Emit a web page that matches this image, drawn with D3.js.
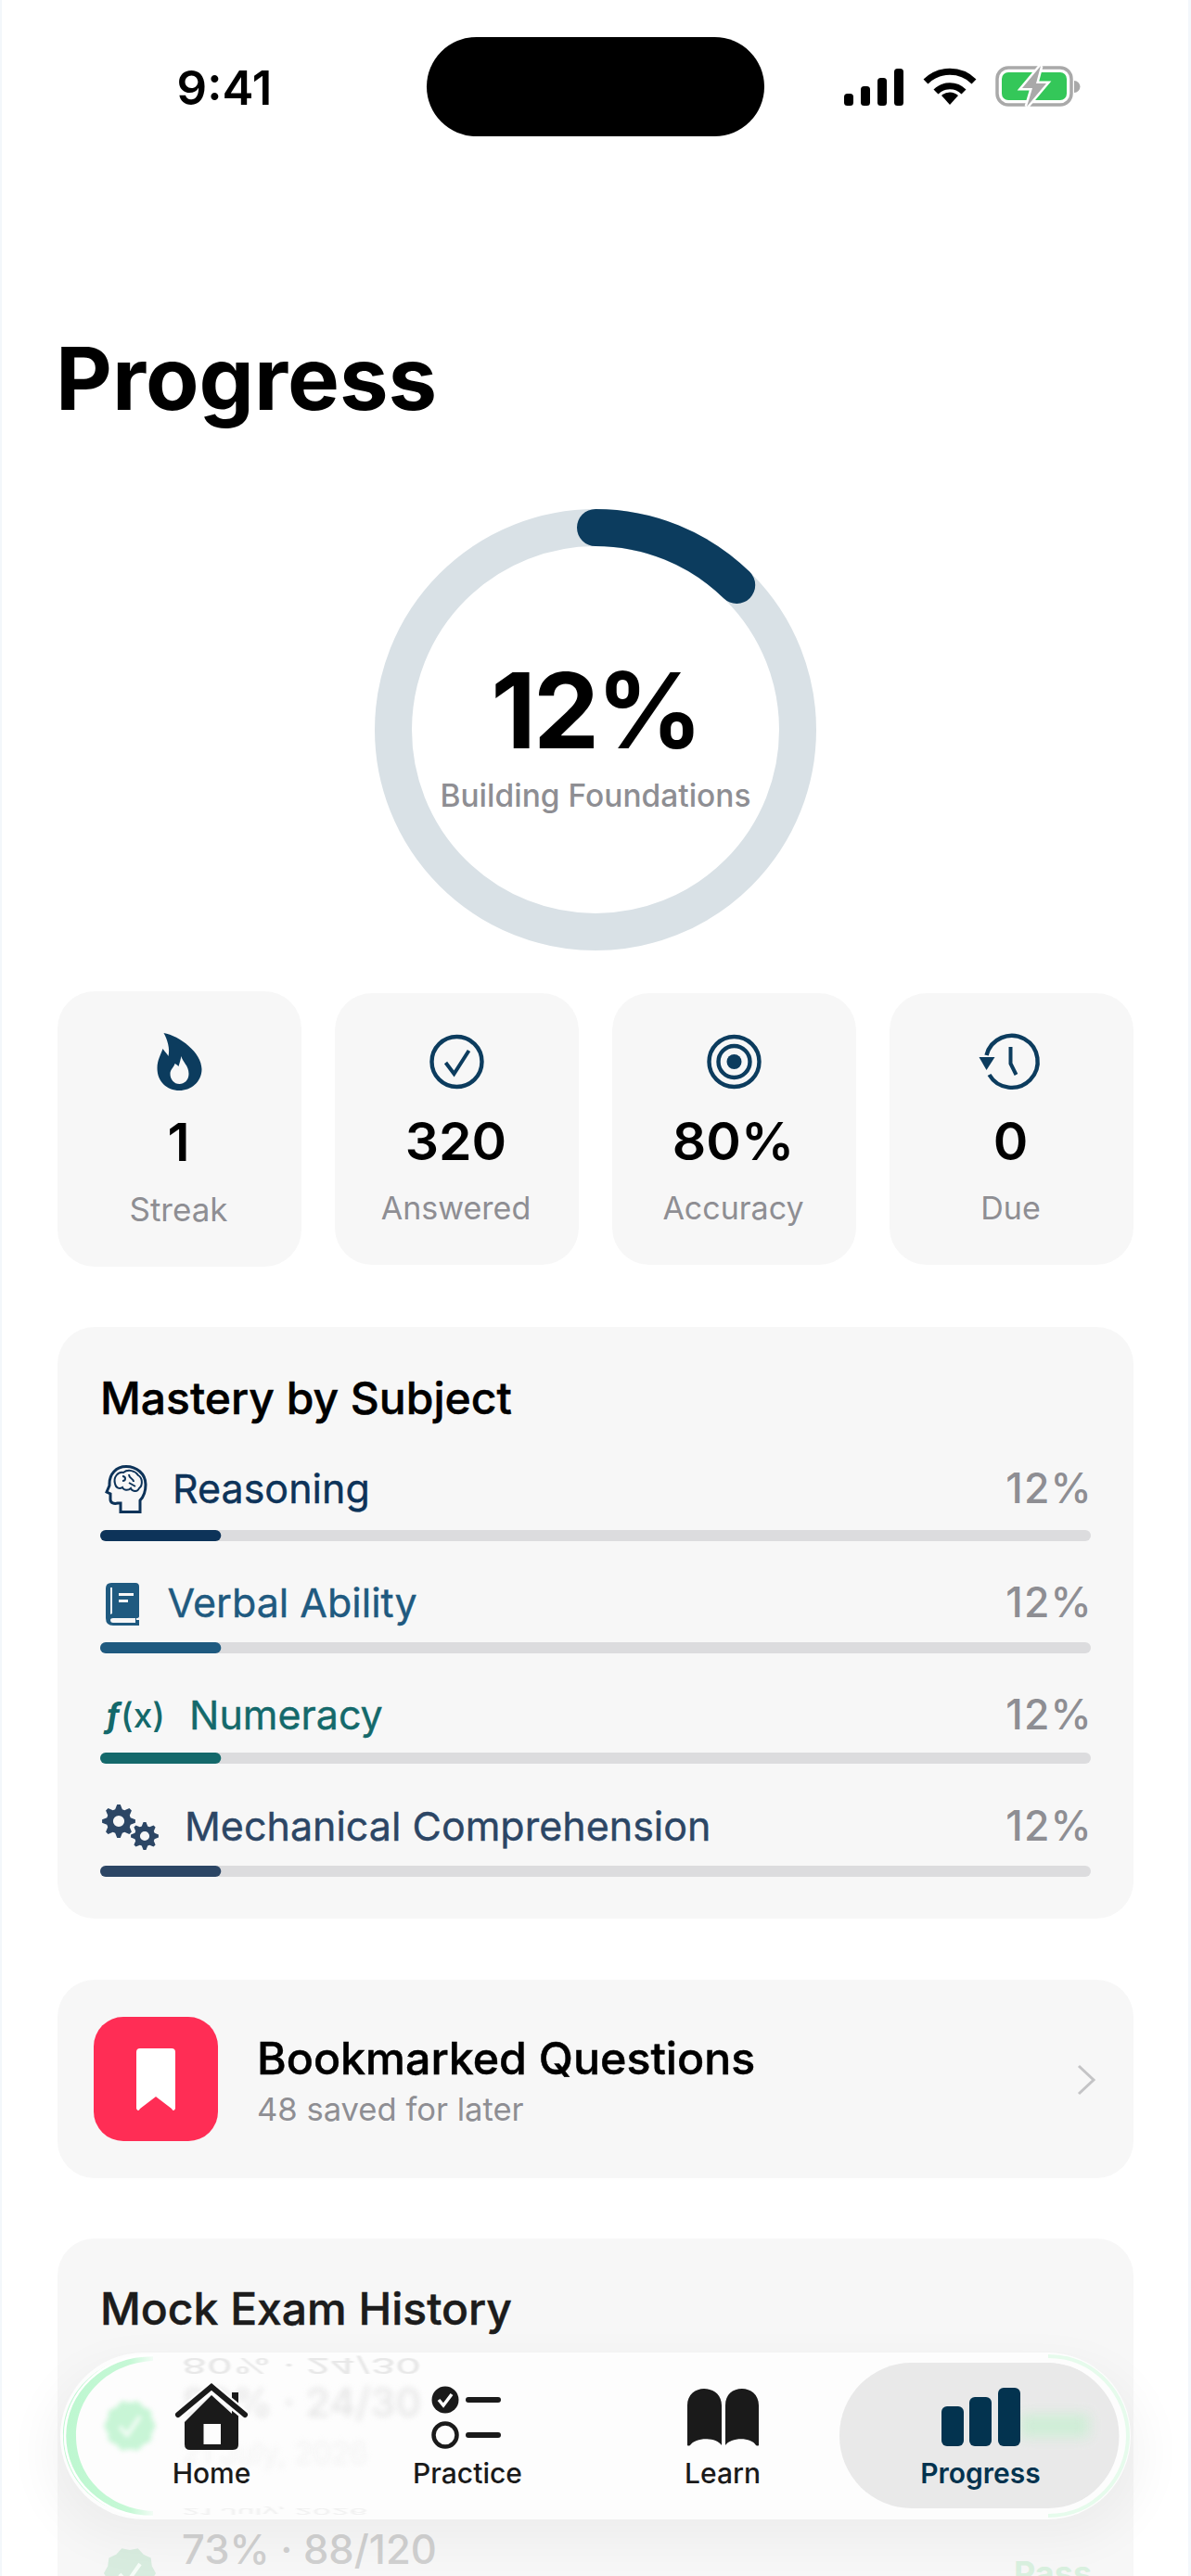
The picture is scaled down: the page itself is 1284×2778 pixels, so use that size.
<!DOCTYPE html>
<meta charset="utf-8">
<head>
  <script src="https://d3js.org/d3.v7.min.js"></script>
  <style>
    html, body { margin: 0; padding: 0; background: #fff; }
    svg { display: block; }
    text { font-family: 'Inter', sans-serif; }
  </style>
</head>
<div id="my_dataviz"></div>
<script>
  // overall ring
  var overallPct = 12.3;
  var overallLabel = "Building Foundations";

  // stat cards
  var statLabels = ["Streak", "Answered", "Accuracy", "Due"];
  var statValues = ["1", "320", "80%", "0"];

  // mastery bars
  var subjects = ["Reasoning", "Verbal Ability", "Numeracy", "Mechanical Comprehension"];
  var masteryValues = [12.2, 12.2, 12.2, 12.2];
  var subjectColors = ["#0d3359", "#1f5a80", "#14696b", "#2c4665"];

  // bookmarks
  var bookmarkTitle = "Bookmarked Questions";
  var bookmarkNote = "48 saved for later";

  // mock exam rows (mostly hidden behind the tab bar)
  var examScores = ["80% · 24/30", "73% · 88/120"];
  var examDates = ["21 July, 2026", "21 July, 2026"];
  var examResults = ["Pass", "Pass"];

  // tab bar
  var tabLabels = ["Home", "Practice", "Learn", "Progress"];

  var width = 1284, height = 2778;
  var navy = "#0c3c5e", grey = "#8e8e93", cardFill = "#f7f7f7";

  var svg = d3.select("#my_dataviz").append("svg")
    .attr("width", width).attr("height", height);

  var defs = svg.append("defs");
  function blur(id, sd) {
    defs.append("filter").attr("id", id)
      .attr("x", "-30%").attr("y", "-60%").attr("width", "160%").attr("height", "220%")
      .attr("color-interpolation-filters", "sRGB")
      .append("feGaussianBlur").attr("stdDeviation", sd);
  }
  blur("blur3", 3);
  blur("blur2", 2.4);
  blur("blur1", 1.2);
  blur("blur9", 7);
  blur("shadow", 26);
  var greenFade = defs.append("linearGradient").attr("id", "greenFade");
  greenFade.append("stop").attr("offset", "0%").attr("stop-color", "#bdf7d0");
  greenFade.append("stop").attr("offset", "75%").attr("stop-color", "#c6f8d6");
  greenFade.append("stop").attr("offset", "100%").attr("stop-color", "#c6f8d6").attr("stop-opacity", 0.2);

  function label(g, x, y, str, size, weight, fill, anchor) {
    return g.append("text").attr("x", x).attr("y", y).text(str)
      .attr("font-size", size).attr("font-weight", weight)
      .attr("fill", fill).attr("text-anchor", anchor || "start");
  }
  function card(x, y, w, h, r) {
    return svg.append("rect").attr("x", x).attr("y", y).attr("width", w).attr("height", h)
      .attr("rx", r).attr("fill", cardFill);
  }
  // gear outline with a hole, teeth around the rim
  function gear(r, teeth) {
    var p = d3.path(), n = teeth * 4, rin = r * 0.74;
    for (var i = 0; i < n; i++) {
      var a = i / n * 2 * Math.PI - Math.PI / n;
      var rad = (i % 4 < 2) ? r : rin;
      if (i == 0) p.moveTo(rad * Math.cos(a), rad * Math.sin(a));
      else p.lineTo(rad * Math.cos(a), rad * Math.sin(a));
    }
    p.closePath();
    var h = r * 0.34;
    p.moveTo(h, 0); p.arc(0, 0, h, 0, 2 * Math.PI, true); p.closePath();
    return p.toString();
  }

  // edge hairlines of the screenshot
  svg.append("rect").attr("x", 0).attr("y", 0).attr("width", 2).attr("height", height).attr("fill", "#f3f7fb");
  svg.append("rect").attr("x", width - 3).attr("y", 0).attr("width", 3).attr("height", height).attr("fill", "#f3f7fb");

  // status bar
  label(svg, 242, 113, "9:41", 51, 600, "#000", "middle");
  svg.append("rect").attr("x", 460).attr("y", 40).attr("width", 364).attr("height", 107).attr("rx", 53.5).attr("fill", "#000");
  var sig = svg.append("g").attr("transform", "translate(910,114)");
  [13, 21, 30, 40].forEach(function (h, i) {
    sig.append("rect").attr("x", i * 18).attr("y", -h).attr("width", 10).attr("height", h).attr("rx", 3.5).attr("fill", "#000");
  });
  var wifi = svg.append("g").attr("transform", "translate(1024,113)").attr("fill", "none").attr("stroke", "#000").attr("stroke-width", 7);
  wifi.append("path").attr("d", "M-26,-25 A37,37 0 0 1 26,-25");
  wifi.append("path").attr("d", "M-15,-14 A21,21 0 0 1 15,-14");
  wifi.append("path").attr("d", "M-9,-10 L0,0 L9,-10 A13,13 0 0 0 -9,-10 Z").attr("fill", "#000").attr("stroke", "none");
  var bat = svg.append("g").attr("transform", "translate(1075,73)");
  bat.append("rect").attr("x", 0).attr("y", 0).attr("width", 80).attr("height", 40).attr("rx", 12).attr("fill", "#fff").attr("stroke", "#a9a9a9").attr("stroke-width", 3.5);
  bat.append("rect").attr("x", 5).attr("y", 5).attr("width", 70).attr("height", 30).attr("rx", 7).attr("fill", "#34c759");
  bat.append("path").attr("d", "M83,14 A6,6 0 0 1 83,27 Z").attr("fill", "#a9a9a9");
  bat.append("path").attr("d", "M47,-2 L27,22 L38,22 L32,42 L53,17 L42,17 Z").attr("fill", "#a9a9a9").attr("stroke", "#fff").attr("stroke-width", 5).attr("paint-order", "stroke");

  // title
  label(svg, 60, 442, "Progress", 94, 700, "#000");

  // ring
  var ringAngle = d3.scaleLinear().domain([0, 100]).range([0, 2 * Math.PI]);
  var ring = svg.append("g").attr("transform", "translate(642,787)");
  ring.append("circle").attr("r", 218).attr("fill", "none").attr("stroke", "#d9e1e6").attr("stroke-width", 40);
  var ringPath = d3.path();
  ringPath.arc(0, 0, 218, -Math.PI / 2, -Math.PI / 2 + ringAngle(overallPct));
  ring.append("path").attr("d", ringPath.toString()).attr("fill", "none")
    .attr("stroke", navy).attr("stroke-width", 40).attr("stroke-linecap", "round");
  label(ring, 0, 20, Math.round(overallPct) + "%", 113, 700, "#000", "middle").attr("letter-spacing", -3);
  label(ring, 0, 83, overallLabel, 33.5, 500, grey, "middle");

  // stat cards
  var statX = d3.scaleBand().domain(statLabels).range([62, 1222]).paddingInner(36 / 299);
  var statIcons = {
    Streak: function (g) {
      g.append("path").attr("fill", navy).attr("fill-rule", "evenodd").attr("d",
        "M-17,-31 C0,-28 24,-10 24,8 C24,22 12,31 0,31 C-14,31 -24,21 -24,7 C-24,-2 -20,-8 -18,-14 C-15,-10 -13,-8 -12,-6 C-10,-14 -13,-24 -17,-31 Z " +
        "M2,-6 C3,0 10,4 10,13 C10,20 5,24 0,24 C-6,24 -10,19 -10,13 C-10,8 -6,6 -5,2 C-3,3 -2,4 -1,5 C0,2 1,-2 2,-6 Z");
    },
    Answered: function (g) {
      g.append("circle").attr("r", 27).attr("fill", "none").attr("stroke", navy).attr("stroke-width", 4.4);
      g.append("path").attr("d", "M-12,1 L-3,13 L13,-12").attr("fill", "none").attr("stroke", navy).attr("stroke-width", 4);
    },
    Accuracy: function (g) {
      g.append("circle").attr("r", 27).attr("fill", "none").attr("stroke", navy).attr("stroke-width", 4.4);
      g.append("circle").attr("r", 17).attr("fill", "none").attr("stroke", navy).attr("stroke-width", 4.4);
      g.append("circle").attr("r", 8).attr("fill", navy);
    },
    Due: function (g) {
      g.append("path").attr("d", "M-27,-7 A28,28 0 1 1 -24,14").attr("fill", "none").attr("stroke", navy).attr("stroke-width", 4.4);
      g.append("path").attr("d", "M-35,-5 L-18,-5 L-27,9 Z").attr("fill", navy);
      g.append("path").attr("d", "M-1,-16 L-1,2 L5,14").attr("fill", "none").attr("stroke", navy).attr("stroke-width", 4);
    }
  };
  statLabels.forEach(function (name, i) {
    var x0 = statX(name), bw = statX.bandwidth(), cx = x0 + bw / 2;
    var lift = i == 0 ? 1 : 0;
    svg.append("rect").attr("x", x0).attr("y", 1071 - lift * 2).attr("width", bw).attr("height", 293 + lift * 4)
      .attr("rx", 40).attr("fill", cardFill);
    statIcons[name](svg.append("g").attr("transform", "translate(" + cx + ",1145)"));
    label(svg, cx - 1, 1251 + lift, statValues[i], 57, 600, "#000", "middle");
    label(svg, cx - 1, 1315 + lift * 2, name, 34 + lift, 400, grey, "middle");
  });

  // mastery card
  card(62, 1431, 1160, 638, 40);
  label(svg, 108, 1525, "Mastery by Subject", 48, 500, "#000").attr("stroke", "#000").attr("stroke-width", 0.5);
  var barX = d3.scaleLinear().domain([0, 100]).range([108, 1176]);
  var barTop = [1650, 1771, 1890, 2012];
  var rowBaseline = [1621, 1744, 1865, 1985];
  var rowTextX = [186, 180.5, 204, 199];
  var subjectIcons = [
    function (g, c) { // head with brain
      var h = g.append("g").attr("transform", "translate(114,1580)").attr("fill", "none").attr("stroke", c).attr("stroke-width", 3);
      h.append("path").attr("d", "M37,50.5 L37,38 C42,33 43,26 43,21 C43,9 33,1.5 22,1.5 C11,1.5 4,10 4,20 L4,22 L1,29 L5,31 L5,37 C5,41 9,42 13,41 L16,41 L16,50.5 Z");
      h.append("path").attr("stroke-width", 2).attr("d", "M10,20 C8,13 13,7 19,8 C24,4 32,6 35,11 C40,14 40,22 36,25 C34,30 28,28 27,25 C24,28 19,27 18,24 C15,26 11,25 10,20 Z M18,12 C22,12 22,17 18,17 M25,10 C25,15 30,14 30,18 M25,19 L32,23");
    },
    function (g, c) { // book
      var b = g.append("g").attr("transform", "translate(114,1707)");
      b.append("path").attr("fill", c).attr("d", "M6,0 L32,0 Q36,0 36,4 L36,36 Q36,38 33,38 L33,40 L36,40 L36,46 L8,46 Q0,46 0,38 L0,6 Q0,0 6,0 Z");
      b.append("path").attr("fill", "#f7f7f7").attr("d", "M5,5 L7,5 L7,33 L5,34 Z M5,40 Q5,38 8,38 L32,38 L32,43 L8,43 Q5,43 5,40 Z M14,11 L30,11 L30,14 L14,14 Z M14,18 L24,18 L24,21 L14,21 Z");
    },
    function (g, c) { // f(x)
      var t = g.append("text").attr("x", 113).attr("y", 1863).attr("font-size", 37).attr("fill", c);
      t.append("tspan").attr("font-style", "italic").attr("font-weight", 700).text("ƒ");
      t.append("tspan").attr("font-weight", 500).text("(x)");
    },
    function (g, c) { // gears
      g.append("path").attr("d", gear(18, 8)).attr("fill", c).attr("fill-rule", "evenodd").attr("transform", "translate(128,1964)");
      g.append("path").attr("d", gear(15, 8)).attr("fill", c).attr("fill-rule", "evenodd").attr("transform", "translate(156,1980)");
    }
  ];
  subjects.forEach(function (s, i) {
    var c = subjectColors[i];
    subjectIcons[i](svg, c);
    label(svg, rowTextX[i], rowBaseline[i], s, 43, 400, c).attr("stroke", c).attr("stroke-width", 0.4);
    label(svg, 1178, rowBaseline[i], Math.round(masteryValues[i]) + "%", 44.5, 500, grey, "end").attr("letter-spacing", 1.2);
    svg.append("rect").attr("x", barX(0)).attr("y", barTop[i]).attr("width", barX(100) - barX(0)).attr("height", 12)
      .attr("rx", 6).attr("fill", "#dcdcde");
    svg.append("rect").attr("x", barX(0)).attr("y", barTop[i]).attr("width", barX(masteryValues[i]) - barX(0)).attr("height", 12)
      .attr("rx", 6).attr("fill", c);
  });

  // bookmarks card
  card(62, 2135, 1160, 214, 40);
  svg.append("rect").attr("x", 101).attr("y", 2175).attr("width", 134).attr("height", 134).attr("rx", 32).attr("fill", "#ff2d55");
  svg.append("path").attr("fill", "#fff")
    .attr("d", "M151,2209 L185,2209 Q189,2209 189,2213 L189,2274 Q187,2278 185,2274 L168,2261 L151,2274 Q149,2278 147,2274 L147,2213 Q147,2209 151,2209 Z");
  label(svg, 277, 2237, bookmarkTitle, 48.3, 500, "#000").attr("stroke", "#000").attr("stroke-width", 0.5);
  label(svg, 277, 2287, bookmarkNote, 34.6, 400, grey);
  svg.append("path").attr("d", "M1163,2228 L1179,2243 L1163,2258").attr("fill", "none").attr("stroke", "#c4c4c6").attr("stroke-width", 3);

  // mock exam card, runs off the bottom of the screen
  card(62, 2414, 1160, 420, 40).attr("fill", "#f7f7f7");
  label(svg, 108, 2507, "Mock Exam History", 48, 500, "#1c1c1c").attr("stroke", "#1c1c1c").attr("stroke-width", 0.5);

  function seal(g, cx, cy, fill) {
    var p = d3.path(), n = 20;
    for (var i = 0; i < n; i++) {
      var a = i / n * 2 * Math.PI, rad = i % 2 ? 25 : 28;
      if (i == 0) p.moveTo(rad * Math.cos(a), rad * Math.sin(a));
      else p.lineTo(rad * Math.cos(a), rad * Math.sin(a));
    }
    p.closePath();
    var s = g.append("g").attr("transform", "translate(" + cx + "," + cy + ")");
    s.append("path").attr("d", p.toString()).attr("fill", fill);
    s.append("path").attr("d", "M-11,1 L-3,10 L11,-10").attr("fill", "none").attr("stroke", "#f6fdf8").attr("stroke-width", 4);
  }

  // second row sits below the bar, faded
  seal(svg, 140, 2775, "#d8ecdf");
  label(svg, 196, 2765, examScores[1], 43.5, 500, "#d0d0d0");
  label(svg, 1093, 2788, examResults[1], 36, 700, "#d9f0df");

  // soft shadow of the floating tab bar
  svg.append("rect").attr("x", 50).attr("y", 2550).attr("width", 1184).attr("height", 190).attr("rx", 95)
    .attr("fill", "#000").attr("opacity", 0.04).attr("filter", "url(#shadow)");

  // tab bar body
  var pill = svg.append("g");
  pill.append("rect").attr("x", 65).attr("y", 2537).attr("width", 1154).attr("height", 180).attr("rx", 90).attr("fill", "#fdfdfd");

  // what shows through the glass, plus its flipped edge reflections
  var through = pill.append("g");
  seal(through.append("g").attr("filter", "url(#blur2)"), 140, 2616, "#c8f5d6");
  label(through.append("g").attr("filter", "url(#blur3)"), 196, 2606, examScores[0], 43, 500, "#e6e6e6");
  label(through.append("g").attr("filter", "url(#blur3)"), 196, 2657, examDates[0], 32, 400, "#f2f2f2");
  through.append("g").attr("filter", "url(#blur1)").attr("transform", "translate(0,2543) scale(1,-0.52)")
    .call(function (g) { label(g, 196, 0, examScores[0], 43, 500, "#e8e8e8"); });
  through.append("g").attr("filter", "url(#blur1)").attr("transform", "translate(0,2705) scale(1,-0.3)")
    .call(function (g) { label(g, 196, 0, examDates[0], 32, 400, "#efefef"); });

  // green rim on the left and the right of the glass
  var leftRim = "M165,2540 C110,2540 70,2580 70,2627 C70,2674 110,2714 165,2714";
  pill.append("path").attr("d", "M165,2546 C118,2548 82,2582 82,2627 C82,2672 118,2706 165,2708 L165,2714 C106,2714 68,2674 68,2627 C68,2580 106,2540 165,2540 Z")
    .attr("fill", "url(#greenFade)");
  pill.append("path").attr("d", leftRim).attr("fill", "none").attr("stroke", "#fff").attr("stroke-width", 2.5);

  // selected tab
  var tabs = svg.append("g");
  tabs.append("rect").attr("x", 905).attr("y", 2548).attr("width", 303).attr("height", 157).attr("rx", 78).attr("fill", "#e9e9e9");
  tabs.append("rect").attr("x", 1100).attr("y", 2604).attr("width", 74).attr("height", 24).attr("fill", "#cdeed5")
    .attr("filter", "url(#blur9)").attr("opacity", 0.95);
  tabs.append("path").attr("d", "M1130,2541 C1180,2541 1216,2582 1216,2627 C1216,2672 1180,2713 1130,2713")
    .attr("fill", "none").attr("stroke", "#e6fbec").attr("stroke-width", 4);
  tabs.append("path").attr("d", "M1130,2546 C1176,2548 1208,2586 1208,2627 C1208,2668 1176,2706 1130,2708")
    .attr("fill", "none").attr("stroke", "#fdfdfd").attr("stroke-width", 3);

  // tab icons
  var ink = "#1a1a1a", active = "#03334f";
  var home = tabs.append("g");
  home.append("path").attr("fill", ink).attr("d", "M250,2580 L257,2580 L257,2612 L257,2636 Q257,2642 251,2642 L205,2642 Q199,2642 199,2636 L199,2612 L228,2583 L250,2603 Z");
  home.append("rect").attr("x", 219.5).attr("y", 2614).attr("width", 18.5).attr("height", 22).attr("fill", "#fdfdfd");
  home.append("path").attr("d", "M192,2604 L228,2575 L264,2604").attr("fill", "none").attr("stroke", "#fdfdfd").attr("stroke-width", 11);
  home.append("path").attr("d", "M192,2604 L228,2574 L264,2604").attr("fill", "none").attr("stroke", ink).attr("stroke-width", 6).attr("stroke-linecap", "round");

  var prac = tabs.append("g");
  prac.append("circle").attr("cx", 480).attr("cy", 2588).attr("r", 14.5).attr("fill", ink);
  prac.append("path").attr("d", "M473,2588 L478,2594 L487,2582").attr("fill", "none").attr("stroke", "#fff").attr("stroke-width", 3.5);
  prac.append("circle").attr("cx", 480).attr("cy", 2626).attr("r", 12.5).attr("fill", "none").attr("stroke", ink).attr("stroke-width", 4.5);
  [2588, 2626].forEach(function (y) {
    prac.append("line").attr("x1", 505).attr("x2", 537).attr("y1", y).attr("y2", y).attr("stroke", ink).attr("stroke-width", 6).attr("stroke-linecap", "round");
  });

  var learn = tabs.append("g").attr("fill", ink);
  learn.append("path").attr("d", "M741,2637 L741,2594 C741,2582 750,2576 759,2576 C769,2576 778,2582 778,2594 L778,2637 C772,2628 750,2628 744,2637 Q742,2638 741,2637 Z");
  learn.append("path").attr("d", "M818,2637 L818,2594 C818,2582 809,2576 800,2576 C790,2576 782,2582 782,2594 L782,2637 C788,2628 810,2628 815,2637 Q817,2638 818,2637 Z");

  // tab bar icon, three rising bars
  var prog = tabs.append("g").attr("fill", active);
  prog.append("rect").attr("x", 1015).attr("y", 2595).attr("width", 24).attr("height", 43).attr("rx", 6);
  prog.append("rect").attr("x", 1045).attr("y", 2585).attr("width", 24).attr("height", 53).attr("rx", 6);
  prog.append("rect").attr("x", 1076).attr("y", 2575).attr("width", 24).attr("height", 63).attr("rx", 6);

  var tabX = [228, 504, 779, 1057];
  tabLabels.forEach(function (t, i) {
    var isActive = t == "Progress";
    label(tabs, tabX[i], 2678, t, 30, isActive ? 600 : 500, isActive ? active : ink, "middle");
  });
</script>
